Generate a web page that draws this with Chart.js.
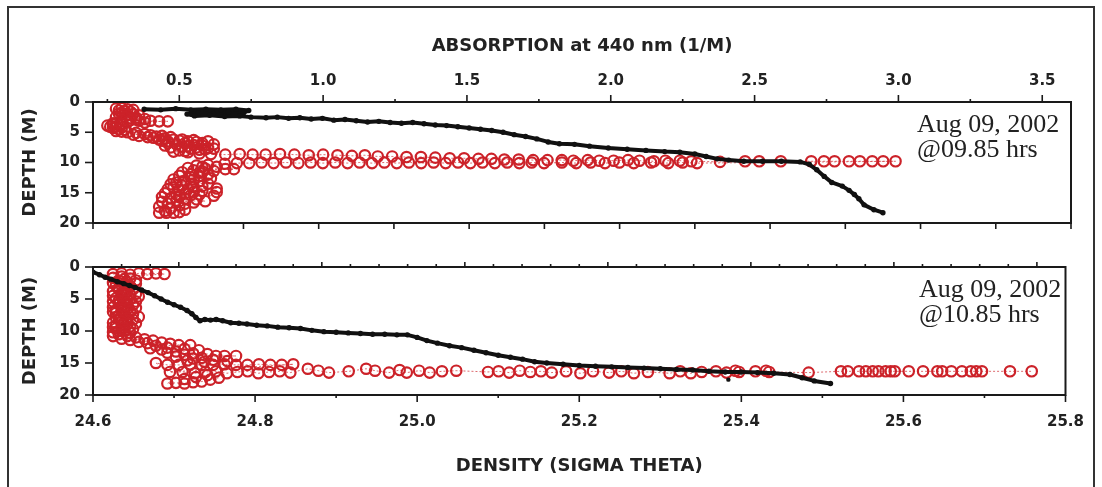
<!DOCTYPE html>
<html><head><meta charset="utf-8">
<script src="https://cdn.jsdelivr.net/npm/chart.js@4.4.1/dist/chart.umd.min.js"></script>
<style>
html,body{margin:0;padding:0;background:#fff;}
body{width:1102px;height:487px;position:relative;overflow:hidden;}
#frame{position:absolute;left:7px;top:6px;width:1088px;height:500px;border:2px solid #333;box-sizing:border-box;}
canvas{position:absolute;left:0;}
</style></head><body>
<div id="frame"></div>
<canvas id="c1" width="1102" height="245" style="top:0"></canvas>
<canvas id="c2" width="1102" height="242" style="top:245px"></canvas>
<script>
// ---------- tick labels ----------
const absTickLabels = ['0.5','1.0','1.5','2.0','2.5','3.0','3.5'];
const densTickLabels = ['24.6','24.8','25.0','25.2','25.4','25.6','25.8'];
const depthTickLabels = ['0','5','10','15','20'];
const topAbsMinorTicks = [0.25,0.75,1.25,1.75,2.25,2.75,3.25];
const botAbsTicks = [0.3,0.4,0.5,0.6,0.7,0.8,0.9,1.0,1.1,1.2,1.3,1.4,1.5,1.6,1.7,1.8,1.9,2.0,2.1,2.2,2.3,2.4,2.5,2.6,2.7,2.8,2.9,3.0,3.1,3.2,3.3,3.4,3.5];
const topDensTicks = [24.6,24.7,24.8,24.9,25.0,25.1,25.2,25.3,25.4,25.5,25.6,25.7,25.8,25.9];
const botDensMinorTicks = [24.7,24.9,25.1,25.3,25.5,25.7];
const annotTop = ['Aug 09, 2002','@09.85 hrs'];
const annotBottom = ['Aug 09, 2002','@10.85 hrs'];

// ---------- top panel: density (sigma theta) vs depth ----------
const topDensity = [[24.668,1.2],[24.690,1.3],[24.710,1.1],[24.730,1.3],[24.750,1.2],[24.770,1.3],[24.790,1.2],[24.807,1.4],[24.800,1.8],[24.780,1.7],[24.760,1.9],[24.740,1.8],[24.725,2.0],[24.735,2.3],[24.755,2.2],[24.775,2.4],[24.795,2.3],[24.810,2.5],[24.830,2.6],[24.845,2.5],[24.860,2.7],[24.875,2.6],[24.890,2.8],[24.905,2.7],[24.920,3.0],[24.935,2.9],[24.950,3.1],[24.965,3.3],[24.980,3.2],[24.995,3.4],[25.010,3.5],[25.025,3.4],[25.040,3.6],[25.055,3.8],[25.070,3.9],[25.085,4.1],[25.100,4.3],[25.115,4.5],[25.130,4.7],[25.145,5.0],[25.160,5.4],[25.175,5.7],[25.190,6.1],[25.205,6.6],[25.220,6.9],[25.240,7.0],[25.260,7.3],[25.285,7.6],[25.310,7.8],[25.335,8.0],[25.360,8.2],[25.380,8.3],[25.400,8.6],[25.415,9.0],[25.430,9.4],[25.445,9.6],[25.465,9.8],[25.490,9.8],[25.515,9.8],[25.540,9.9],[25.552,10.3],[25.562,11.2],[25.572,12.3],[25.582,13.3],[25.596,13.9],[25.605,14.6],[25.612,15.3],[25.618,16.0],[25.625,17.0],[25.638,17.8],[25.650,18.3]];

// ---------- top panel: absorption at 440 nm vs depth ----------
const topAbsorption = [
[0.30,1.0],[0.28,1.1],[0.32,1.2],[0.34,1.3],[0.29,1.4],[0.31,1.5],[0.33,1.6],[0.30,1.8],[0.29,1.9],[0.34,2.0],[0.32,2.2],[0.36,2.2],[0.31,2.4],[0.28,2.5],[0.35,2.6],[0.33,2.7],[0.38,2.8],[0.30,2.9],[0.35,2.9],[0.33,3.0],[0.36,3.1],[0.40,3.1],[0.43,3.2],[0.46,3.2],[0.32,3.3],[0.38,3.4],[0.27,3.5],
[0.30,3.6],[0.27,3.7],[0.25,3.9],[0.28,4.0],[0.26,4.1],[0.30,4.2],[0.27,4.3],[0.29,4.5],[0.31,4.6],[0.28,4.8],[0.30,4.9],[0.32,5.0],[0.35,5.1],
[0.38,5.3],[0.34,5.4],[0.40,5.5],[0.36,5.6],[0.42,5.7],[0.44,5.6],[0.47,5.8],[0.39,5.8],[0.41,5.9],[0.45,6.0],[0.43,6.2],
[0.48,6.2],[0.45,6.1],[0.51,6.2],[0.50,6.4],[0.44,6.4],[0.46,6.5],[0.53,6.5],[0.55,6.3],[0.56,6.6],[0.60,6.5],[0.52,6.8],[0.46,6.8],[0.58,6.8],[0.49,7.0],[0.62,7.0],[0.55,7.1],[0.58,7.2],[0.45,7.2],[0.53,7.3],[0.51,7.4],[0.47,7.5],[0.56,7.5],[0.54,7.7],[0.60,7.6],[0.62,7.7],[0.59,7.8],[0.57,7.9],[0.50,8.0],[0.52,8.1],[0.48,8.2],[0.53,8.3],[0.57,8.5],
[0.61,8.6],[0.66,8.7],[0.71,8.6],[0.755,8.7],[0.80,8.7],[0.85,8.6],[0.90,8.7],[0.95,8.8],[1.00,8.7],[1.05,8.8],[1.10,8.9],[1.145,8.8],[1.19,9.0],[1.24,9.0],[1.29,9.1],[1.34,9.1],[1.39,9.2],[1.44,9.3],[1.49,9.3],[1.54,9.4],[1.585,9.4],[1.63,9.5],[1.68,9.5],[1.73,9.6],[1.78,9.6],[1.83,9.6],[1.87,9.7],[1.92,9.6],[1.96,9.7],[2.01,9.7],[2.06,9.6],[2.10,9.7],[2.15,9.8],[2.19,9.7],[2.24,9.7],[2.28,9.8],[2.38,9.9],[2.467,9.8],[2.516,9.8],[2.591,9.8],[2.697,9.8],[2.741,9.8],[2.778,9.8],[2.828,9.8],[2.866,9.8],[2.909,9.8],[2.947,9.8],[2.99,9.8],
[2.30,10.1],[2.25,10.0],[2.20,10.1],[2.14,10.0],[2.08,10.1],[2.03,10.0],[1.98,10.1],[1.93,10.0],[1.88,10.1],[1.83,10.0],[1.768,10.1],[1.725,10.0],[1.682,10.1],[1.64,10.0],[1.597,10.1],[1.554,10.0],[1.512,10.1],[1.469,10.0],[1.426,10.1],[1.384,10.0],[1.341,10.1],[1.298,10.0],[1.256,10.1],[1.213,10.0],[1.17,10.1],[1.127,10.0],[1.085,10.1],[1.042,10.0],[0.999,10.1],[0.957,10.0],[0.914,10.1],[0.871,10.0],[0.828,10.1],[0.786,10.0],[0.743,10.1],[0.70,10.1],[0.658,10.2],
[0.60,10.4],[0.56,10.5],[0.63,10.7],[0.58,10.7],[0.53,10.9],[0.59,11.0],[0.66,11.1],[0.69,11.1],[0.55,11.3],[0.62,11.4],[0.58,11.5],[0.51,11.6],[0.57,11.7],[0.54,11.9],[0.60,12.0],[0.50,12.2],[0.57,12.2],[0.54,12.4],[0.61,12.6],[0.48,12.8],[0.55,12.8],[0.52,13.0],[0.57,13.1],[0.49,13.3],[0.60,13.5],[0.47,13.6],[0.54,13.6],[0.51,13.8],[0.58,13.9],[0.55,14.0],[0.48,14.1],[0.63,14.3],[0.46,14.4],[0.53,14.4],[0.50,14.6],[0.58,14.7],[0.55,14.9],[0.63,14.9],[0.45,15.1],[0.52,15.1],[0.49,15.3],[0.57,15.3],[0.54,15.4],[0.62,15.5],[0.44,15.7],[0.50,15.7],[0.47,15.9],[0.52,16.0],[0.56,16.1],[0.59,16.4],[0.49,16.3],[0.55,16.6],[0.44,16.5],[0.46,16.8],[0.52,16.8],[0.50,17.1],[0.43,17.3],[0.47,17.6],[0.52,17.8],[0.45,18.0],[0.43,18.3],[0.455,18.3],[0.48,18.3],[0.50,18.2]];

// ---------- bottom panel: density vs depth ----------
const bottomDensity = [[24.600,0.8],[24.608,1.2],[24.615,1.6],[24.622,1.9],[24.630,2.3],[24.638,2.6],[24.645,2.9],[24.652,3.2],[24.660,3.6],[24.668,4.0],[24.676,4.5],[24.684,5.0],[24.692,5.5],[24.700,5.9],[24.708,6.3],[24.716,6.8],[24.722,7.3],[24.727,7.9],[24.732,8.4],[24.738,8.2],[24.745,8.3],[24.752,8.2],[24.760,8.4],[24.770,8.7],[24.780,8.8],[24.790,8.9],[24.802,9.1],[24.815,9.2],[24.828,9.4],[24.842,9.5],[24.856,9.6],[24.870,9.9],[24.885,10.1],[24.900,10.2],[24.915,10.3],[24.930,10.4],[24.945,10.5],[24.960,10.5],[24.975,10.6],[24.988,10.6],[25.000,11.0],[25.012,11.5],[25.025,11.9],[25.040,12.3],[25.055,12.6],[25.070,13.0],[25.085,13.4],[25.100,13.8],[25.115,14.1],[25.130,14.4],[25.145,14.8],[25.160,15.0],[25.180,15.2],[25.200,15.4],[25.220,15.5],[25.240,15.6],[25.260,15.7],[25.280,15.8],[25.300,15.9],[25.320,16.0],[25.340,16.1],[25.360,16.3],[25.380,16.4],[25.400,16.4],[25.420,16.5],[25.440,16.6],[25.460,16.8],[25.475,17.3],[25.490,17.8],[25.510,18.2]];
const bottomDensityStray = [[25.384,17.6]];

// ---------- bottom panel: absorption vs depth ----------
const bottomAbsorption = [
[0.27,1.1],[0.30,1.0],[0.33,1.2],[0.36,1.0],[0.39,1.1],[0.42,1.0],[0.45,1.1],
[0.30,1.5],[0.27,1.7],[0.33,1.8],[0.31,1.9],[0.29,2.1],[0.35,2.1],[0.32,2.4],[0.30,2.3],[0.27,2.5],[0.35,2.6],[0.31,2.7],[0.28,2.9],[0.33,3.0],[0.31,3.2],[0.29,3.3],[0.34,3.5],[0.29,3.5],[0.31,3.7],[0.27,3.8],[0.32,3.9],[0.30,4.1],[0.35,4.2],[0.31,4.3],[0.33,4.4],[0.27,4.5],[0.36,4.6],[0.30,4.7],[0.28,4.9],[0.33,5.0],[0.31,5.2],[0.29,5.3],[0.35,5.4],[0.27,5.4],[0.32,5.6],[0.29,5.7],[0.34,5.9],[0.32,6.0],[0.30,6.1],[0.27,6.3],[0.35,6.4],[0.32,6.5],[0.30,6.6],[0.28,6.8],[0.33,6.9],[0.27,7.0],[0.31,7.1],[0.28,7.2],[0.34,7.3],[0.31,7.5],[0.29,7.6],[0.36,7.8],[0.28,7.9],[0.32,8.0],[0.29,8.1],[0.34,8.2],[0.32,8.4],[0.30,8.5],[0.27,8.7],[0.35,8.8],[0.32,8.9],[0.30,9.0],[0.28,9.2],[0.33,9.3],[0.27,9.4],[0.31,9.5],[0.28,9.6],[0.34,9.7],[0.31,9.9],[0.29,10.0],[0.27,10.2],[0.33,10.3],[0.29,10.5],
[0.32,10.8],[0.27,10.8],[0.35,11.0],[0.30,11.2],[0.38,11.3],[0.33,11.4],[0.41,11.5],[0.36,11.7],[0.44,11.8],[0.39,11.9],[0.47,12.0],[0.50,12.2],[0.54,12.2],[0.42,12.3],[0.46,12.6],[0.40,12.7],[0.52,12.8],[0.44,12.9],[0.57,13.0],[0.49,13.2],[0.46,13.4],[0.55,13.5],[0.60,13.6],[0.52,13.7],[0.63,13.9],[0.66,13.9],[0.70,13.9],[0.49,14.0],[0.58,14.2],[0.55,14.3],[0.62,14.5],[0.53,14.6],[0.67,14.7],[0.59,14.8],
[0.46,18.2],[0.49,18.1],[0.52,18.2],[0.55,18.0],[0.58,17.9],[0.61,17.6],[0.64,17.3],[0.60,16.9],[0.56,17.2],[0.52,17.5],
[0.42,15.0],[0.46,15.3],[0.50,15.3],[0.54,15.2],[0.58,15.3],[0.62,15.3],[0.66,15.2],[0.70,15.3],[0.74,15.3],[0.78,15.2],[0.82,15.3],[0.86,15.3],[0.90,15.2],
[0.469,16.4],[0.513,16.4],[0.556,16.6],[0.593,16.4],[0.630,16.3],[0.668,16.6],[0.705,16.4],[0.741,16.3],[0.778,16.6],[0.816,16.4],[0.853,16.3],[0.890,16.5],[0.951,15.9],[0.988,16.2],[1.025,16.5],[1.094,16.3],[1.155,15.9],[1.186,16.2],[1.235,16.5],[1.272,16.1],[1.297,16.5],[1.340,16.2],[1.377,16.5],[1.420,16.3],[1.470,16.2],[1.581,16.4],[1.618,16.3],[1.655,16.5],[1.692,16.2],[1.729,16.4],[1.766,16.3],[1.804,16.5],
[1.854,16.3],[1.904,16.6],[1.948,16.3],[2.004,16.5],[2.047,16.3],[2.091,16.6],[2.140,16.4],[2.216,16.6],[2.253,16.3],[2.290,16.6],[2.328,16.4],[2.378,16.3],[2.415,16.5],[2.446,16.2],[2.459,16.4],[2.516,16.3],[2.553,16.2],[2.564,16.4],[2.702,16.5],[2.815,16.3],[2.839,16.3],[2.878,16.3],[2.902,16.3],[2.926,16.3],[2.946,16.3],[2.971,16.3],[2.989,16.3],[3.003,16.3],[3.052,16.3],[3.102,16.3],[3.152,16.3],[3.169,16.3],[3.201,16.3],[3.238,16.3],[3.269,16.3],[3.288,16.3],[3.308,16.3],[3.406,16.3],[3.482,16.3]];

// ---------- helpers ----------
const BLACK = '#111111', RED = '#cc2229';
const absMajors = absTickLabels.map(Number);
const densMajors = densTickLabels.map(Number);
const depthMajors = depthTickLabels.map(Number);
function lbl(v, vals, labels){ for (let i=0;i<vals.length;i++){ if (Math.abs(vals[i]-v)<1e-6) return labels[i]; } return ''; }
const tickFont = {family:'"DejaVu Sans", sans-serif', weight:'bold', size:15};
const titleFont = {family:'"DejaVu Sans", sans-serif', weight:'bold', size:18};
const pts = arr => arr.map(p => ({x:p[0], y:p[1]}));
const setTicks = vals => (s => { s.ticks = vals.map(v => ({value:v})); });

function blackSet(data, xid){ return {data:pts(data), xAxisID:xid, yAxisID:'y', showLine:true, borderColor:BLACK, borderWidth:4, borderJoinStyle:'round', borderCapStyle:'round', pointRadius:2.7, pointBackgroundColor:BLACK, pointBorderWidth:0, order:0}; }
function redSet(data){ return {data:pts(data), xAxisID:'abs', yAxisID:'y', showLine:true, borderColor:'rgba(204,34,41,0.75)', borderWidth:0.9, borderDash:[2,2], borderJoinStyle:'round', pointRadius:5.2, pointBorderColor:RED, pointBackgroundColor:'rgba(255,255,255,0)', pointBorderWidth:2.2, order:1}; }

function edgePlugin(edges, texts){
  return { id:'edges', afterDraw(chart){
    const ctx = chart.ctx, a = chart.chartArea;
    ctx.save();
    ctx.strokeStyle = '#1a1a1a'; ctx.lineWidth = 2;
    ctx.strokeRect(a.left, a.top, a.right-a.left, a.bottom-a.top);
    ctx.lineWidth = 1.6;
    edges.forEach(e => {
      const s = chart.scales[e.scale];
      e.values.forEach(v => {
        const isMajor = e.majors.some(m => Math.abs(m-v) < 1e-6);
        const len = isMajor ? e.major : e.minor;
        const p = s.getPixelForValue(v);
        ctx.beginPath();
        if (e.side === 'top'){ ctx.moveTo(p, a.top); ctx.lineTo(p, a.top-len); }
        else if (e.side === 'bottom'){ ctx.moveTo(p, a.bottom); ctx.lineTo(p, a.bottom+len); }
        else { ctx.moveTo(a.left, p); ctx.lineTo(a.left-len, p); }
        ctx.stroke();
      });
    });
    ctx.fillStyle = '#222'; ctx.font = '26px "Liberation Serif", serif';
    ctx.textAlign = 'left'; ctx.textBaseline = 'alphabetic';
    texts.lines.forEach((t,i) => ctx.fillText(t, texts.x, texts.y + i*texts.dy));
    ctx.restore();
  }};
}

function yScale(){
  return {type:'linear', position:'left', reverse:true, min:0, max:20,
    afterBuildTicks:setTicks(depthMajors),
    ticks:{callback:v => lbl(v, depthMajors, depthTickLabels), font:tickFont, color:'#222', padding:13, autoSkip:false},
    grid:{display:false, drawTicks:false}, border:{display:false},
    title:{display:true, text:'DEPTH (M)', font:titleFont, color:'#222', padding:{top:20, bottom:0}},
    afterFit:s => { s.width = 93; }};
}

function build(id, o){
  return new Chart(document.getElementById(id), {
    type:'scatter',
    data:{datasets:o.datasets},
    options:{responsive:false, animation:false, events:[],
      layout:{padding:{left:0, right:31, top:0, bottom:0}},
      plugins:{legend:{display:false}, tooltip:{enabled:false}},
      scales:o.scales},
    plugins:[edgePlugin(o.edges, o.texts)]
  });
}

// ---------- top chart ----------
build('c1', {
  datasets:[blackSet(topDensity,'den'), redSet(topAbsorption)],
  scales:{
    abs:{type:'linear', position:'top', min:0.2, max:3.6,
      afterBuildTicks:setTicks(topAbsMinorTicks.concat(absMajors).sort((a,b)=>a-b)),
      ticks:{callback:v => lbl(v, absMajors, absTickLabels), font:tickFont, color:'#222', padding:12, autoSkip:false, maxRotation:0},
      grid:{display:false, drawTicks:false}, border:{display:false},
      title:{display:true, text:'ABSORPTION at 440 nm (1/M)', font:titleFont, color:'#222', padding:{top:36, bottom:0}},
      afterFit:s => { s.height = 102; }},
    den:{type:'linear', position:'bottom', min:24.6, max:25.9,
      afterBuildTicks:setTicks(topDensTicks),
      ticks:{display:false}, grid:{display:false, drawTicks:false}, border:{display:false},
      afterFit:s => { s.height = 16; }},
    y:yScale()
  },
  edges:[
    {scale:'abs', side:'top', values:topAbsMinorTicks.concat(absMajors), majors:absMajors, major:7, minor:3},
    {scale:'den', side:'bottom', values:topDensTicks, majors:topDensTicks, major:6, minor:6},
    {scale:'y', side:'left', values:depthMajors, majors:depthMajors, major:8, minor:8}
  ],
  texts:{lines:annotTop, x:917, y:132, dy:25}
});

// ---------- bottom chart ----------
const strayDot = {data:pts(bottomDensityStray), xAxisID:'den', yAxisID:'y', showLine:false, pointRadius:2.2, pointBackgroundColor:BLACK, pointBorderWidth:0, order:0};
build('c2', {
  datasets:[blackSet(bottomDensity,'den'), strayDot, redSet(bottomAbsorption)],
  scales:{
    abs:{type:'linear', position:'top', min:0.2, max:3.6,
      afterBuildTicks:setTicks(botAbsTicks),
      ticks:{display:false}, grid:{display:false, drawTicks:false}, border:{display:false},
      afterFit:s => { s.height = 22; }},
    den:{type:'linear', position:'bottom', min:24.6, max:25.8,
      afterBuildTicks:setTicks(densMajors.concat(botDensMinorTicks).sort((a,b)=>a-b)),
      ticks:{callback:v => lbl(v, densMajors, densTickLabels), font:tickFont, color:'#222', padding:18, autoSkip:false, maxRotation:0},
      grid:{display:false, drawTicks:false}, border:{display:false},
      title:{display:true, text:'DENSITY (SIGMA THETA)', font:titleFont, color:'#222', padding:{top:0, bottom:10}},
      afterFit:s => { s.height = 92; }},
    y:yScale()
  },
  edges:[
    {scale:'abs', side:'top', values:botAbsTicks, majors:absMajors, major:5, minor:3},
    {scale:'den', side:'bottom', values:densMajors.concat(botDensMinorTicks), majors:densMajors, major:7, minor:3},
    {scale:'y', side:'left', values:depthMajors, majors:depthMajors, major:8, minor:8}
  ],
  texts:{lines:annotBottom, x:919, y:52, dy:25}
});
</script>
</body></html>
